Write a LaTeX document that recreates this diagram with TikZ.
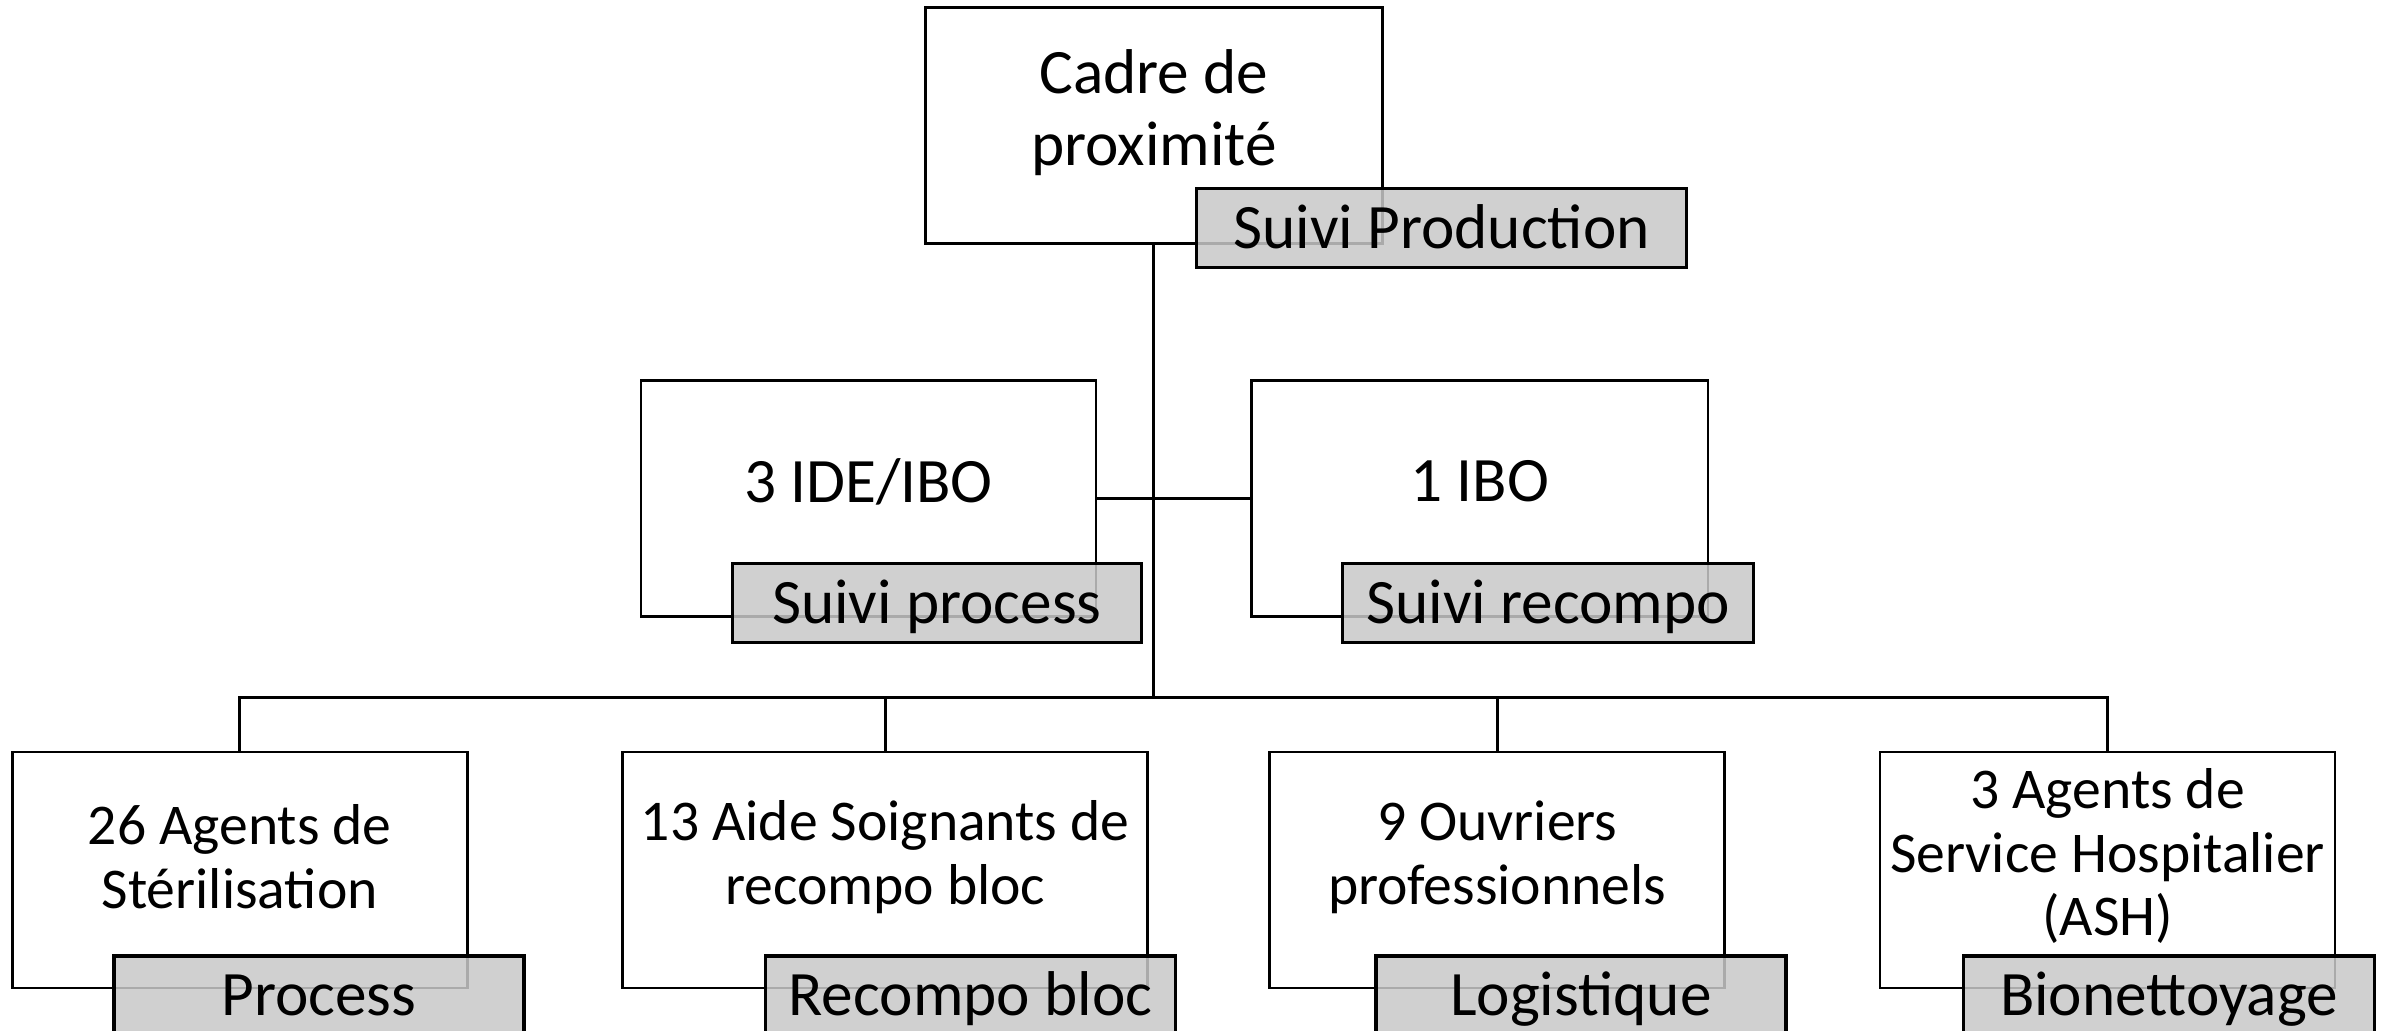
\documentclass[tikz,border=0pt]{standalone}
\usepackage{fontspec}
\setmainfont{Carlito}
\definecolor{lblgray}{RGB}{200,200,200}

\begin{document}
\begin{tikzpicture}[
        box/.style = {draw, line width=0.75pt, fill=white, minimum height=2.36cm, inner sep=0pt},
        lbl/.style = {draw, line width=0.9pt, fill=lblgray, fill opacity=0.85, text opacity=1,
                      minimum height=0.79cm, inner sep=0pt, text height=11.6pt, text depth=0pt,
                      font=\fontsize{18}{20.3}\selectfont},
        bigtxt/.style = {align=center, font=\fontsize{18}{20.3}\selectfont},
        smalltxt/.style = {align=center, font=\fontsize{16.4}{18.2}\selectfont},
        conn/.style = {line width=0.9pt}
    ]
        \useasboundingbox (0,0) rectangle (23.87,10.30);
        %Top and middle boxes
        \node[box, minimum width=4.567cm] (cadre) at (11.539,9.044) {};
        \node[box, minimum width=4.55cm] (ide) at (8.685,5.315) {};
        \node[box, minimum width=4.567cm] (ibo) at (14.797,5.315) {};
        %Bottom boxes
        \node[box, minimum width=4.55cm] (agents) at (2.398,1.6) {};
        \node[box, minimum width=5.25cm] (aides) at (8.852,1.6) {};
        \node[box, minimum width=4.55cm] (ouvriers) at (14.972,1.6) {};
        \node[box, minimum width=4.55cm] (ash) at (21.075,1.6) {};
        %Texts
        \node[bigtxt] (cadretxt) at ([yshift=0.13cm]cadre.center) {Cadre de\\proximité};
        \node[bigtxt] (idetxt) at ([yshift=0.17cm]ide.center) {3 IDE/IBO};
        \node[bigtxt] (ibotxt) at ([yshift=0.17cm]ibo.center) {1 IBO};
        \node[smalltxt] (agentstxt) at ([yshift=0.13cm]agents.center) {26 Agents de\\Stérilisation};
        \node[smalltxt] (aidestxt) at ([yshift=0.13cm]aides.center) {13 Aide Soignants de\\recompo bloc};
        \node[smalltxt] (ouvrierstxt) at ([yshift=0.13cm]ouvriers.center) {9 Ouvriers\\professionnels};
        \node[smalltxt] (ashtxt) at ([yshift=0.14cm]ash.center) {3 Agents de\\Service Hospitalier\\(ASH)};
        %Connectors
        \coordinate (bus) at (11.539,3.328);
        \draw[conn] (cadre.south) -- (bus);
        \draw[conn] (ide.east) -- (ibo.west);
        \draw[conn] (agents.north) |- (bus) -| (ash.north);
        \draw[conn] (aides.north) -- (aides.north |- bus);
        \draw[conn] (ouvriers.north) -- (ouvriers.north |- bus);
        %Grey labels
        \node[lbl, minimum width=4.902cm] (prod) at (14.416,8.016) {Suivi Production};
        \node[lbl, minimum width=4.095cm] (suiviproc) at (9.37,4.272) {Suivi process};
        \node[lbl, minimum width=4.11cm] (suivirec) at (15.482,4.272) {Suivi recompo};
        \node[lbl, minimum width=4.1cm] (process) at (3.19,0.345) {Process};
        \node[lbl, minimum width=4.1cm] (recompo) at (9.705,0.345) {Recompo bloc};
        \node[lbl, minimum width=4.1cm] (logist) at (15.81,0.345) {Logistique};
        \node[lbl, minimum width=4.11cm] (bionet) at (21.69,0.345) {Bionettoyage};
    \end{tikzpicture}
\end{document}
